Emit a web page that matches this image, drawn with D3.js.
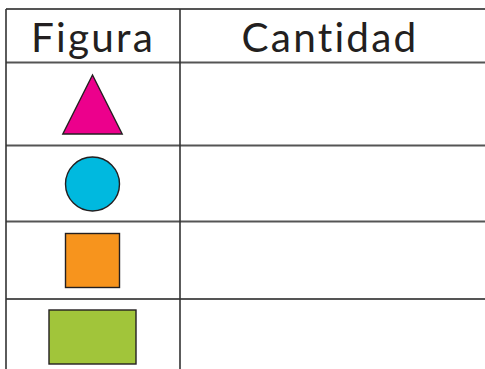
<!DOCTYPE html>
<html><head><meta charset="utf-8">
<script src="https://cdn.jsdelivr.net/npm/d3@7"></script>
<style>html,body{margin:0;padding:0;background:#fff;overflow:hidden}
text{font-variant-ligatures:none;font-feature-settings:"liga" 0}</style>
</head><body>
<script>
const headers = ["Figura", "Cantidad"];
const shapes = ["triangle", "circle", "square", "rectangle"];
const shapeColors = ["#EC008C", "#00B9DF", "#F7941D", "#A1C53A"];
const quantities = ["", "", "", ""];

const W = 485, H = 369;
const lineColor = "#555";
const rowEdges = [9, 62.5, 145.5, 221.5, 299, 380];
const colX = [6, 180, 490];

const svg = d3.select("body").append("svg").attr("width", W).attr("height", H);

// horizontal lines
svg.selectAll("line.h").data(rowEdges.slice(0, 5)).enter().append("line")
  .attr("x1", colX[0]).attr("x2", W).attr("y1", d => d).attr("y2", d => d)
  .attr("stroke", lineColor).attr("stroke-width", 2);
// vertical lines
svg.selectAll("line.v").data(colX.slice(0, 2)).enter().append("line")
  .attr("x1", d => d).attr("x2", d => d).attr("y1", rowEdges[0]).attr("y2", H)
  .attr("stroke", "#333").attr("stroke-width", 1.6);

// headers
const headerCx = [93, 330];
svg.selectAll("text.h").data(headers).enter().append("text")
  .attr("x", (d, i) => headerCx[i]).attr("y", 51.5)
  .attr("text-anchor", "middle")
  .attr("font-family", "Lato, 'Noto Sans', sans-serif").attr("font-size", 40.5)
  .attr("letter-spacing", 2.2)
  .attr("fill", "#231f20").text(d => d);

const cx = 92.5;
const centers = [105, 184, 260.5, 337];
const g = svg.selectAll("g.shape").data(shapes).enter().append("g")
  .attr("transform", (d, i) => `translate(${cx},${centers[i]})`);
g.each(function(d, i) {
  const s = d3.select(this);
  const fill = shapeColors[i];
  if (d === "triangle") {
    s.append("path").attr("d", "M0,-30L29.7,29L-29.7,29Z");
  } else if (d === "circle") {
    s.append("circle").attr("r", 27);
  } else if (d === "square") {
    s.append("rect").attr("x", -27).attr("y", -27).attr("width", 54).attr("height", 54);
  } else {
    s.append("rect").attr("x", -43.5).attr("y", -27).attr("width", 87).attr("height", 54);
  }
  s.selectAll("*").attr("fill", fill).attr("stroke", "#231f20").attr("stroke-width", 1.4);
});

svg.selectAll("text.q").data(quantities).enter().append("text")
  .attr("x", 332).attr("y", (d, i) => centers[i] + 12)
  .attr("text-anchor", "middle").attr("font-family", "Lato").attr("font-size", 32)
  .text(d => d);
</script>
</body></html>
